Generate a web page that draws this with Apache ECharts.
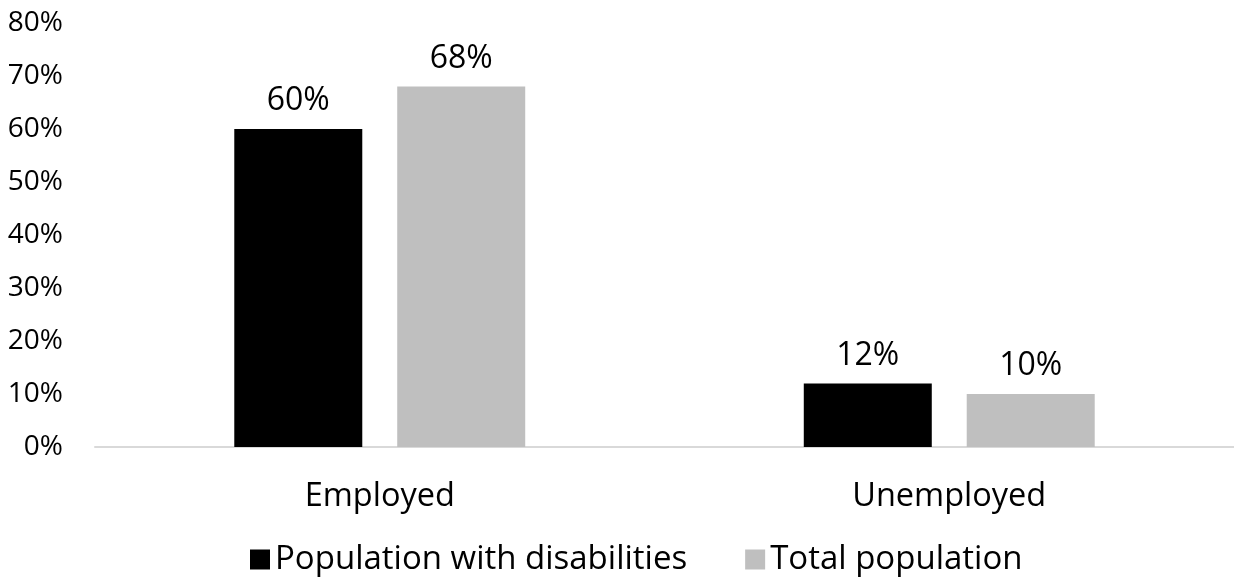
<!DOCTYPE html>
<html>
<head>
<meta charset="utf-8">
<script src="https://cdn.jsdelivr.net/npm/echarts@6/dist/echarts.min.js"></script>
<style>html,body{margin:0;padding:0;background:#fff}#c{width:1234px;height:582px}</style>
</head>
<body>
<div id="c"></div>
<script>
const categories = ['Employed', 'Unemployed'];
const disabilities = [60, 12];
const total = [68, 10];
const yTicks = [0, 10, 20, 30, 40, 50, 60, 70, 80];

const FONT = 'Open Sans';
const chart = echarts.init(document.getElementById('c'), null, {renderer: 'canvas'});
chart.setOption({
  animation: false,
  backgroundColor: '#fff',
  grid: {left: 95, right: 0, top: 23, bottom: 135, containLabel: false},
  legend: {
    top: 538, left: 245,
    itemWidth: 20, itemHeight: 20, itemGap: 58,
    icon: 'rect',
    textStyle: {fontFamily: FONT, fontSize: 33, color: '#000', padding: [0, 0, 0, 0]},
    data: ['Population with disabilities', 'Total population']
  },
  xAxis: {
    type: 'category', data: categories,
    axisLine: {lineStyle: {color: '#d9d9d9', width: 2}},
    axisTick: {show: false},
    axisLabel: {fontFamily: FONT, fontSize: 32.5, color: '#000', margin: 33}
  },
  yAxis: {
    type: 'value', min: 0, max: 80, interval: 10,
    splitLine: {show: false},
    axisLine: {show: false}, axisTick: {show: false},
    axisLabel: {fontFamily: FONT, fontSize: 28, color: '#000', margin: 32,
      formatter: v => yTicks.includes(v) ? v + '%' : ''}
  },
  series: [
    {name: 'Population with disabilities', type: 'bar', data: disabilities,
     barWidth: 128, barGap: '27.3%', itemStyle: {color: '#000000'},
     label: {show: true, position: 'top', distance: 12, formatter: '{c}%', fontFamily: FONT, fontSize: 32, color: '#000'}},
    {name: 'Total population', type: 'bar', data: total,
     barWidth: 128, itemStyle: {color: '#bfbfbf'},
     label: {show: true, position: 'top', distance: 12, formatter: '{c}%', fontFamily: FONT, fontSize: 32, color: '#000'}}
  ]
});
</script>
</body>
</html>
